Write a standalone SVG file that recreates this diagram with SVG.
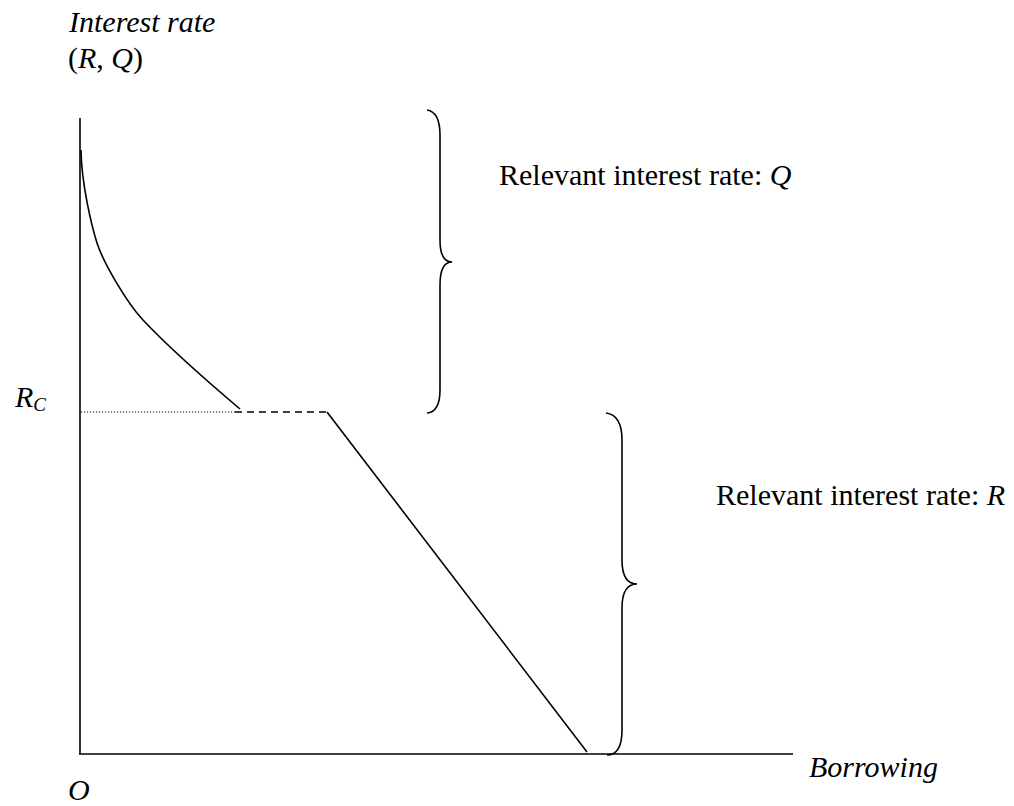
<svg xmlns="http://www.w3.org/2000/svg" width="1014" height="806" viewBox="0 0 1014 806">
<style>
.ln{fill:none;stroke:#000;stroke-width:1.6}
.t{font-family:"Liberation Serif","Times New Roman",serif;font-size:30px;fill:#000}
.i{font-style:italic}
</style>
<rect width="1014" height="806" fill="#fff"/>
<g id="axes">
<line class="ln" x1="80" y1="118" x2="80" y2="754"/>
<line class="ln" x1="79" y1="754" x2="793" y2="754"/>
</g>
<g id="connectors">
<path class="ln" d="M81,150 C81.5,185 92,227 97,243 C103.5,263 127,303 143,320 C175,354 214,387 240,409"/>
<line x1="81" y1="412" x2="235" y2="412" stroke="#000" stroke-width="1" stroke-dasharray="1.2 1.8"/>
<line class="ln" x1="235" y1="412" x2="327" y2="412" stroke-dasharray="7 5"/>
<line class="ln" x1="327" y1="412" x2="587" y2="752"/>
</g>
<g id="brace-q">
<path class="ln" d="M427,110 Q440,112 440,135 L440,240 Q440,262 452,262 Q440,262 440,285 L440,390 Q440,412 427,413"/>
</g>
<g id="brace-r">
<path class="ln" d="M606,413 Q622,415 622,440 L622,560 Q622,584 637,584 Q622,584 622,608 L622,730 Q622,755 607,755"/>
</g>
<g id="labels">
<text class="t i" x="69" y="32">Interest rate</text>
<text class="t" x="68" y="68">(<tspan class="i">R</tspan>, <tspan class="i">Q</tspan>)</text>
<text class="t i" x="15" y="407">R<tspan font-size="19" dy="4">C</tspan></text>
<text class="t" x="499" y="185">Relevant interest rate: <tspan class="i">Q</tspan></text>
<text class="t" x="716" y="505">Relevant interest rate: <tspan class="i">R</tspan></text>
<text class="t i" x="809" y="777">Borrowing</text>
<text class="t i" x="68" y="800">O</text>
</g>
</svg>
